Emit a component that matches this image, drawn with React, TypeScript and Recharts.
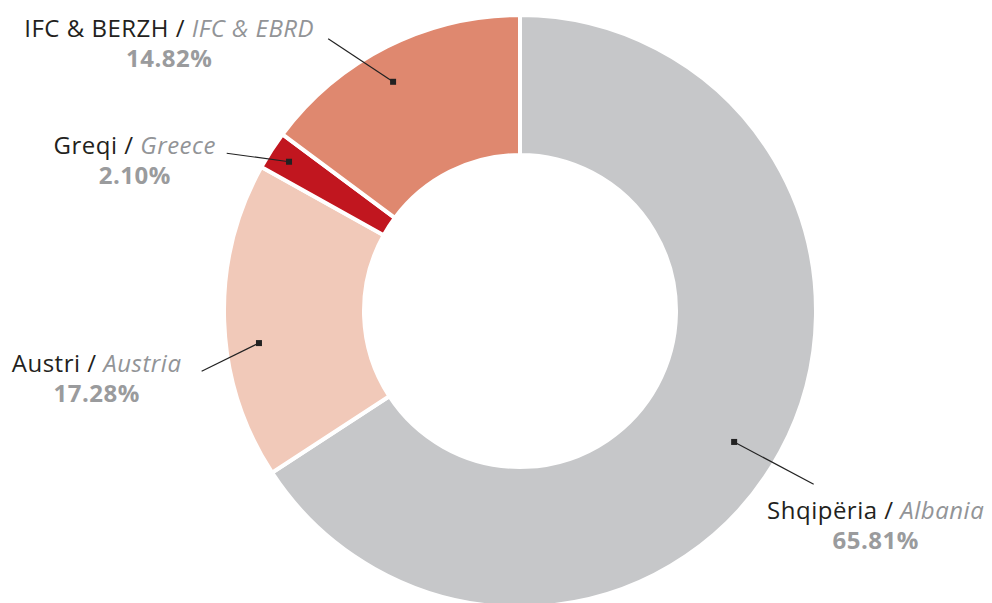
import React from 'react';
import { PieChart, Pie, Cell } from 'recharts';

const namesLocal = ['Shqipëria', 'Austri', 'Greqi', 'IFC & BERZH'];
const namesEnglish = ['Albania', 'Austria', 'Greece', 'IFC & EBRD'];
const shares = [65.81, 17.28, 2.10, 14.82];
const colors = ['#c6c7c9', '#f1c9b9', '#c1161f', '#df886f'];

const data = shares.map((v, i) => ({ local: namesLocal[i], english: namesEnglish[i], value: v }));

// label layout: marker radius / angle offset, line end radius / angle offset, text offset from line end
const LAYOUT = [
  { mr: 251, ma: 3, lr: 341, la: 2.1, tdx: 62, tdy: 35 },
  { mr: 263, ma: -5, lr: 324, la: -8.7, tdx: -105, tdy: 1 },
  { mr: 275, ma: 0, lr: 333, la: -4.6, tdx: -92, tdy: 1 },
  { mr: 262, ma: -2.3, lr: 333, la: -8.5, tdx: -159, tdy: -2 },
];

const RAD = Math.PI / 180;
const FONT = '"Open Sans", "Noto Sans", sans-serif';

const renderLabel = (props: any) => {
  const { cx, cy, midAngle, index, payload } = props;
  const L = LAYOUT[index];
  const pt = (r: number, off: number) => {
    const a = midAngle - off;
    return { x: cx + Math.cos(-a * RAD) * r, y: cy + Math.sin(-a * RAD) * r };
  };
  const m = pt(L.mr, L.ma);
  const e = pt(L.lr, L.la);
  const tx = e.x + L.tdx;
  const ty = e.y + L.tdy;
  const item = payload && payload.local ? payload : data[index];
  return (
    <g>
      <line x1={m.x} y1={m.y} x2={e.x} y2={e.y} stroke="#222" strokeWidth={1.2} />
      <rect x={m.x - 3} y={m.y - 3} width={6} height={6} fill="#222" />
      <text x={tx} y={ty} textAnchor="middle" fontFamily={FONT} fontSize={24} letterSpacing={0.5}>
        <tspan fill="#231f20">{item.local} / </tspan>
        <tspan fill="#929497" fontStyle="italic">{item.english}</tspan>
      </text>
      <text x={tx} y={ty + 30} textAnchor="middle" fontFamily={FONT} fontSize={24} letterSpacing={0.5} fontWeight="bold" fill="#9a9b9d">
        {item.value.toFixed(2)}%
      </text>
    </g>
  );
};

export default function App() {
  return (
    <div style={{ position: 'absolute', left: 0, top: 0, width: 992, height: 603, background: '#fff' }}>
      <PieChart width={992} height={603} margin={{ top: 0, right: 0, bottom: 0, left: 0 }}>
        <Pie
          data={data}
          dataKey="value"
          cx={520}
          cy={311}
          innerRadius={156}
          outerRadius={296}
          startAngle={90}
          endAngle={-270}
          stroke="#ffffff"
          strokeWidth={4}
          label={renderLabel}
          labelLine={false}
          isAnimationActive={false}
        >
          {data.map((d, i) => (
            <Cell key={d.local} fill={colors[i]} />
          ))}
        </Pie>
      </PieChart>
    </div>
  );
}
